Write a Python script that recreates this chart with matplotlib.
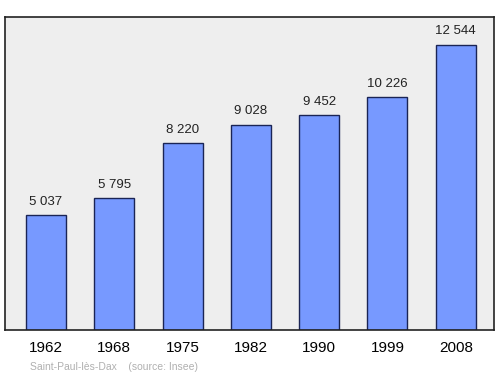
import matplotlib
matplotlib.use("Agg")
import matplotlib.pyplot as plt

plt.rcParams['font.family'] = ['Liberation Sans', 'DejaVu Sans']

years = ["1962", "1968", "1975", "1982", "1990", "1999", "2008"]
population = [5037, 5795, 8220, 9028, 9452, 10226, 12544]
labels = ["5 037", "5 795", "8 220", "9 028", "9 452", "10 226", "12 544"]

fig = plt.figure(figsize=(5, 3.74), dpi=100)
ax = fig.add_axes([0.01, 0.118, 0.978, 0.837])
ax.set_facecolor("#eeeeee")

x = range(len(years))
ax.bar(x, population, width=0.585, color="#7799ff", edgecolor="#1a2455", linewidth=1)
for i, (v, t) in enumerate(zip(population, labels)):
    ax.text(i, v + 330, t, ha="center", va="bottom", fontsize=9.5, color="#222222")

ax.set_xlim(-0.6, 6.56)
ax.set_ylim(0, 13776)
ax.set_yticks([])
ax.set_xticks(list(x))
ax.set_xticklabels(years, fontsize=11)
ax.tick_params(axis="x", length=0, pad=8)
for s in ax.spines.values():
    s.set_linewidth(1.2)
    s.set_color("#222222")

fig.text(0.06, 0.012, "Saint-Paul-lès-Dax    (source: Insee)", fontsize=7.5, color="#b0b0b0")

fig.savefig("out.png")
